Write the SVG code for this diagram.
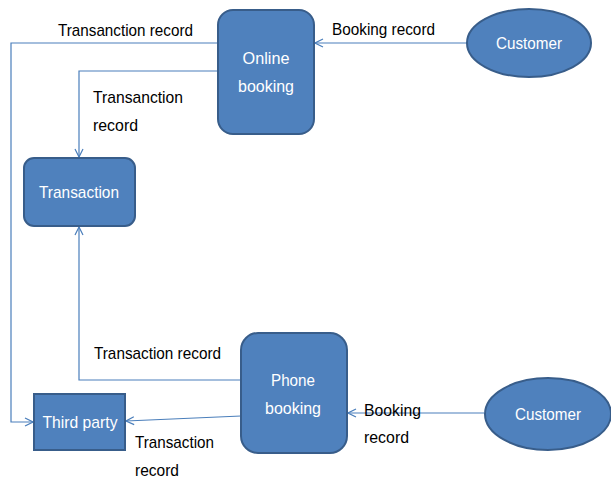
<svg xmlns="http://www.w3.org/2000/svg" width="611" height="480" viewBox="0 0 611 480">
<style>
.node{fill:#4F81BD;stroke:#385D8A;stroke-width:2}
.nt{fill:#FFFFFF;font-family:"Liberation Sans",Arial,sans-serif;font-size:17px;text-anchor:middle}
.lb{fill:#000000;font-family:"Liberation Sans",Arial,sans-serif;font-size:17px}
.c{fill:none;stroke:#4A7EBB;stroke-width:1.2;marker-end:url(#ah)}
</style>
<defs>
<marker id="ah" markerWidth="10" markerHeight="10" refX="9" refY="5" orient="auto" markerUnits="userSpaceOnUse">
<path d="M1,1 L9,5 L1,9" fill="none" stroke="#4A7EBB" stroke-width="1.2"/>
</marker>
</defs>
<rect width="611" height="480" fill="#FFFFFF"/>
<g id="connectors">
<path class="c" d="M467,43 L315,43"/>
<path class="c" d="M218,43 L11,43 L11,422 L33,422"/>
<path class="c" d="M218,71 L79,71 L79,157"/>
<path class="c" d="M241,380 L79,380 L79,227"/>
<path class="c" d="M241,416 L126,421"/>
<path class="c" d="M484,413 L348,413"/>
</g>
<g id="labels">
<text class="lb" x="58" y="36" textLength="135" lengthAdjust="spacingAndGlyphs">Transanction record</text>
<text class="lb" x="332" y="35" textLength="103" lengthAdjust="spacingAndGlyphs">Booking record</text>
<text class="lb" x="93" y="103" textLength="90" lengthAdjust="spacingAndGlyphs">Transanction</text>
<text class="lb" x="93" y="131" textLength="45" lengthAdjust="spacingAndGlyphs">record</text>
<text class="lb" x="94" y="359" textLength="127" lengthAdjust="spacingAndGlyphs">Transaction record</text>
<text class="lb" x="135" y="448" textLength="79" lengthAdjust="spacingAndGlyphs">Transaction</text>
<text class="lb" x="135" y="476" textLength="44" lengthAdjust="spacingAndGlyphs">record</text>
<text class="lb" x="364" y="416" textLength="57" lengthAdjust="spacingAndGlyphs">Booking</text>
<text class="lb" x="364" y="443" textLength="45" lengthAdjust="spacingAndGlyphs">record</text>
</g>
<g id="online-booking">
<rect class="node" x="218" y="10" width="96" height="124" rx="15"/>
<text class="nt" x="266" y="64" textLength="47" lengthAdjust="spacingAndGlyphs">Online</text>
<text class="nt" x="266" y="92" textLength="56" lengthAdjust="spacingAndGlyphs">booking</text>
</g>
<g id="customer-top">
<ellipse class="node" cx="529" cy="43" rx="62" ry="34"/>
<text class="nt" x="529" y="49" textLength="66" lengthAdjust="spacingAndGlyphs">Customer</text>
</g>
<g id="transaction">
<rect class="node" x="24" y="158" width="111" height="68" rx="10"/>
<text class="nt" x="79" y="198" textLength="80" lengthAdjust="spacingAndGlyphs">Transaction</text>
</g>
<g id="phone-booking">
<rect class="node" x="241" y="333" width="106" height="120" rx="17"/>
<text class="nt" x="293" y="386" textLength="44" lengthAdjust="spacingAndGlyphs">Phone</text>
<text class="nt" x="293" y="414" textLength="56" lengthAdjust="spacingAndGlyphs">booking</text>
</g>
<g id="third-party">
<rect class="node" x="34" y="394" width="91" height="56"/>
<text class="nt" x="80" y="428" textLength="75" lengthAdjust="spacingAndGlyphs">Third party</text>
</g>
<g id="customer-bottom">
<ellipse class="node" cx="548" cy="414" rx="63" ry="36"/>
<text class="nt" x="548" y="420" textLength="66" lengthAdjust="spacingAndGlyphs">Customer</text>
</g>
</svg>
